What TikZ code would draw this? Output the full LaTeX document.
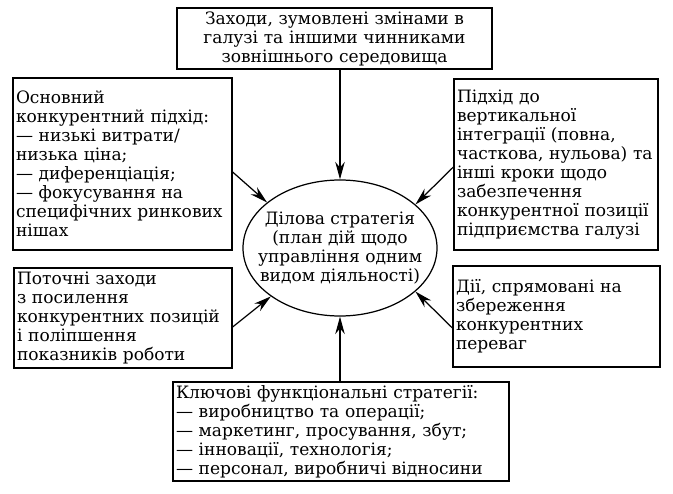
\documentclass[tikz,border=0pt]{standalone}
\usepackage{fontspec}
\setmainfont{DejaVu Serif}
\usetikzlibrary{arrows.meta, shapes.geometric, positioning}

\tikzset{
    blok/.style={draw, line width=0.7pt, align=left, inner xsep=0.06cm, inner ysep=0pt, font=\fontsize{9.7}{10.8}\selectfont},
    ovl/.style={draw, ellipse, line width=0.7pt, minimum width=3.88cm, minimum height=2.72cm, inner sep=0pt},
    ovltxt/.style={align=center, inner sep=0pt, font=\fontsize{9.7}{10.8}\selectfont},
    strilka/.style={-{Stealth[length=3.5mm, width=1.9mm]}, line width=0.7pt}
}

\begin{document}
\begin{tikzpicture}
                        \useasboundingbox (0,0) rectangle (13.46,-9.88);

                        \node[blok, align=center, text width=6.18cm, minimum height=1.22cm] (zov) at (6.69,-0.77) {Заходи, зумовлені змінами в\\галузі та іншими чинниками\\зовнішнього середовища};
                        \node[blok, text width=4.26cm, minimum height=3.44cm] (osn) at (2.45,-3.28) {Основний\\конкурентний підхід:\\— низькі витрати/\\низька ціна;\\— диференціація;\\— фокусування на\\специфічних ринкових\\нішах};
                        \node[blok, text width=3.96cm, minimum height=3.42cm] (vert) at (11.12,-3.29) {Підхід до\\вертикальної\\інтеграції (повна,\\часткова, нульова) та\\інші кроки щодо\\забезпечення\\конкурентної позиції\\підприємства галузі};
                        \node[blok, text width=4.24cm, minimum height=2.00cm] (pot) at (2.46,-6.36) {Поточні заходи\\з посилення\\конкурентних позицій\\і поліпшення\\показників роботи};
                        \node[blok, text width=4.02cm, minimum height=2.02cm] (dii) at (11.13,-6.33) {Дії, спрямовані на\\збереження\\конкурентних\\переваг};
                        \node[blok, text width=6.60cm, minimum height=1.98cm] (kl) at (6.82,-8.63) {Ключові функціональні стратегії:\\— виробництво та операції;\\— маркетинг, просування, збут;\\— інновації, технологія;\\— персонал, виробничі відносини};

                        \node[ovl] (dil) at (6.80,-4.96) {};
                        \node[ovltxt] (diltxt) at (dil.center) {Ділова стратегія\\(план дій щодо\\управління одним\\видом діяльності)};

                        \draw[strilka] (zov.south -| dil.north) -- (dil.north);
                        \draw[strilka] (kl.north -| dil.south) -- (dil.south);
                        \draw[strilka] ([yshift=-0.16cm]osn.east) -- (dil.148);
                        \draw[strilka] ([yshift=-0.05cm]vert.west) -- (dil.30);
                        \draw[strilka] ([yshift=-0.18cm]pot.east) -- (dil.215);
                        \draw[strilka] ([yshift=-0.23cm]dii.west) -- (dil.-30);
                    \end{tikzpicture}
\end{document}
